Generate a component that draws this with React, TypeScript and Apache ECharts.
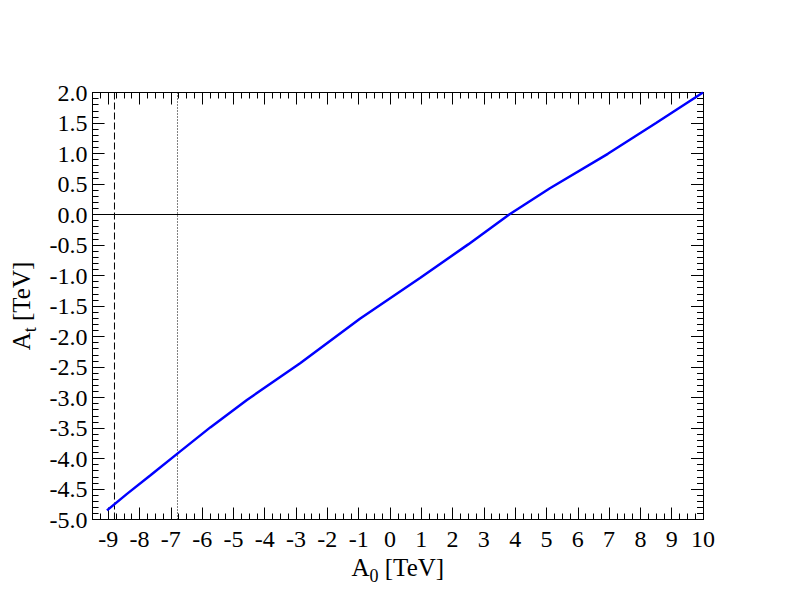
import React, { useEffect, useRef } from "react";
import * as echarts from "echarts";

const xMajor = [-9, -8, -7, -6, -5, -4, -3, -2, -1, 0, 1, 2, 3, 4, 5, 6, 7, 8, 9, 10];
const lineX = [-9.04, -8.4, -7.66, -6.79, -5.74, -4.57, -2.87, -0.96, 0.96, 2.5, 3.81, 5.11, 6.96, 8.5, 10];
const lineY = [-4.85, -4.58, -4.28, -3.92, -3.49, -3.04, -2.44, -1.71, -1.04, -0.49, 0.0, 0.43, 0.995, 1.5, 2.0];
const dashedX = -8.8;
const dottedX = -6.787;
const xMin = -9.5;
const xMax = 10;
const yMin = -5;
const yMax = 2;

const FONT = "Liberation Serif";

export default function App() {
  const ref = useRef<HTMLDivElement>(null);
  useEffect(() => {
    if (!ref.current) return;
    const chart = echarts.init(ref.current, null, { renderer: "svg" });
    const g = { left: 92.57, right: 89, top: 92.5, bottom: 92.5, show: false };
    const black = { color: "#000", width: 1 };
    const richName = {
      a: { fontFamily: FONT, fontSize: 25, color: "#000", verticalAlign: "top" },
      s: { fontFamily: FONT, fontSize: 18, color: "#000", verticalAlign: "top", padding: [12, 0, 0, 0] },
    };
    const option: any = {
      animation: false,
      backgroundColor: "#fff",
      grid: [g, { ...g }],
      xAxis: [
        {
          type: "value", gridIndex: 0, position: "bottom", min: xMin, max: xMax,
          axisLine: { show: true, onZero: false, lineStyle: black },
          axisTick: { show: true, inside: true, length: 12, customValues: xMajor, lineStyle: black },
          axisLabel: { show: true, customValues: xMajor, color: "#000", fontFamily: FONT, fontSize: 24, margin: 7 },
          splitLine: { show: false },
          name: "{a|A}{s|0}{a| [TeV]}",
          nameLocation: "middle",
          nameGap: 29,
          nameTextStyle: { rich: richName },
        },
        {
          type: "value", gridIndex: 0, position: "top", min: xMin, max: xMax,
          axisLine: { show: true, onZero: false, lineStyle: black },
          axisTick: { show: true, inside: true, length: 12, customValues: xMajor, lineStyle: black },
          axisLabel: { show: false },
          splitLine: { show: false },
        },
        {
          type: "value", gridIndex: 1, position: "bottom", min: xMin, max: xMax, interval: 0.25,
          axisLine: { show: false, onZero: false },
          axisTick: { show: true, inside: true, length: 6, lineStyle: black },
          axisLabel: { show: false },
          splitLine: { show: false },
        },
        {
          type: "value", gridIndex: 1, position: "top", min: xMin, max: xMax, interval: 0.25,
          axisLine: { show: false, onZero: false },
          axisTick: { show: true, inside: true, length: 6, lineStyle: black },
          axisLabel: { show: false },
          splitLine: { show: false },
        },
      ],
      yAxis: [
        {
          type: "value", gridIndex: 0, position: "left", min: yMin, max: yMax, interval: 0.5,
          axisLine: { show: true, onZero: false, lineStyle: black },
          axisTick: { show: true, inside: true, length: 12, lineStyle: black },
          minorTick: { show: true, splitNumber: 5, length: 6, lineStyle: black },
          axisLabel: {
            show: true, color: "#000", fontFamily: FONT, fontSize: 24, margin: 5,
            formatter: (v: number) => v.toFixed(1),
          },
          splitLine: { show: false },
          name: "{a|A}{s|t}{a| [TeV]}",
          nameLocation: "middle",
          nameGap: 53,
          nameTextStyle: { rich: richName },
        },
        {
          type: "value", gridIndex: 0, position: "right", min: yMin, max: yMax, interval: 0.5,
          axisLine: { show: true, onZero: false, lineStyle: black },
          axisTick: { show: true, inside: true, length: 12, lineStyle: black },
          minorTick: { show: true, splitNumber: 5, length: 6, lineStyle: black },
          axisLabel: { show: false },
          splitLine: { show: false },
        },
        {
          type: "value", gridIndex: 1, min: yMin, max: yMax, show: false,
        },
      ],
      series: [
        {
          type: "line", xAxisIndex: 0, yAxisIndex: 0, symbol: "none", silent: true,
          data: [[xMin, 0], [xMax, 0]],
          lineStyle: { color: "#000", width: 1 },
        },
        {
          type: "line", xAxisIndex: 0, yAxisIndex: 0, symbol: "none", silent: true,
          data: [[dashedX, yMin], [dashedX, yMax]],
          lineStyle: { color: "#000", width: 1, type: [7, 3] },
        },
        {
          type: "line", xAxisIndex: 0, yAxisIndex: 0, symbol: "none", silent: true,
          data: [[dottedX, yMin], [dottedX, yMax]],
          lineStyle: { color: "#000", width: 1, type: [1, 2] },
        },
        {
          type: "line", xAxisIndex: 0, yAxisIndex: 0, symbol: "none", silent: true,
          data: lineX.map((x, i) => [x, lineY[i]]),
          lineStyle: { color: "#0000ff", width: 2.5 },
        },
      ],
    };
    chart.setOption(option);
    return () => chart.dispose();
  }, []);
  return <div ref={ref} style={{ width: 792, height: 612, position: "absolute", left: 0, top: 0 }} />;
}
